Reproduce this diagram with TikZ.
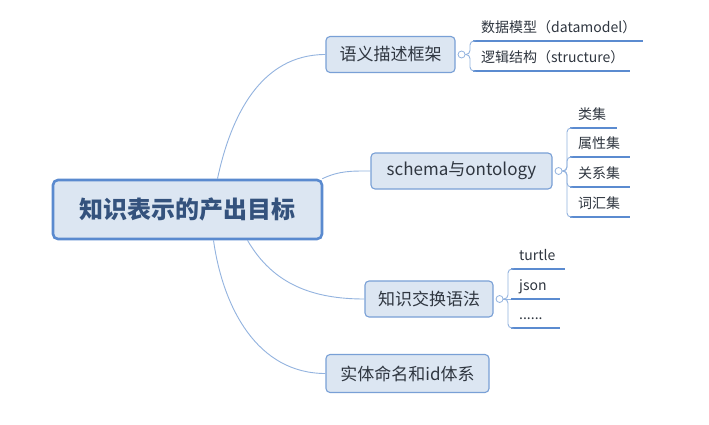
\documentclass[tikz,border=0pt]{standalone}
\usepackage{fontspec}
\setmainfont{Noto Sans CJK SC}

\definecolor{linkblue}{HTML}{93B3DF}
\definecolor{boxfill}{HTML}{DCE6F2}
\definecolor{boxline}{HTML}{79A0D6}
\definecolor{rootline}{HTML}{5A8ACF}
\definecolor{roottext}{HTML}{34527D}
\definecolor{bodytext}{HTML}{2F3640}
\definecolor{lineblue}{HTML}{5B8BD0}

\tikzset{
	rootbox/.style={draw=rootline, line width=2.6pt, fill=boxfill, rounded corners=5pt,
		minimum width=269pt, minimum height=59pt, text=roottext,
		font=\fontsize{24}{27}\selectfont\bfseries},
	topicbox/.style={draw=boxline, line width=1.1pt, fill=boxfill, rounded corners=4pt,
		minimum height=36pt, text=bodytext, font=\fontsize{17}{20}\selectfont},
	link/.style={draw=linkblue, line width=0.9pt},
	fold/.style={circle, draw=linkblue, fill=white, line width=0.8pt, inner sep=0pt, minimum size=7pt},
	leaf/.style={anchor=south west, inner xsep=8pt, inner ysep=3pt, text height=11pt, text depth=5pt,
		text=bodytext, font=\fontsize{14}{17}\selectfont},
	underline/.style={draw=lineblue, line width=1.8pt}
}

\begin{document}
\begin{tikzpicture}[x=1pt, y=1pt]
	\useasboundingbox [fill=white] ( 0, 0 ) rectangle ( 709, 424 );

	% 中心主题
	\node [rootbox] (root) at ( 187.5, 214.5 ) {知识表示的产出目标};

	% 分支主题
	\node [topicbox, minimum width=129pt] (frame) at ( 390.5, 369.5 ) {语义描述框架};
	\node [topicbox, minimum width=181pt] (schema) at ( 461.5, 253 ) {schema与ontology};
	\node [topicbox, minimum width=128pt] (syntax) at ( 429, 125 ) {知识交换语法};
	\node [topicbox, minimum width=163pt, minimum height=38pt] (naming) at ( 407.5, 50.5 ) {实体命名和id体系};

	\draw [link] ([xshift=30pt]root.north) to [ out = 78, in = 180 ] (frame.west);
	\draw [link] ([xshift=-1pt]root.north east) to [ out = 25, in = 180 ] (schema.west);
	\draw [link] ([xshift=60pt]root.south) to [ out = -60, in = 180 ] (syntax.west);
	\draw [link] ([xshift=26pt]root.south) to [ out = -82, in = 180 ] (naming.west);

	% 语义描述框架
	\node [fold] (f1) at ([xshift=6pt]frame.east) {};
	\node [leaf] (model) at ( 473, 383 ) {数据模型（datamodel）};
	\node [leaf] (struct) at ( 473, 353 ) {逻辑结构（structure）};
	\draw [underline] (model.south west) -- ++( 170, 0 );
	\draw [underline] (struct.south west) -- ++( 157, 0 );
	\draw [link, rounded corners=4pt] (f1.east) -- ++( 4.5, 0 ) |- (model.south west);
	\draw [link, rounded corners=4pt] (f1.east) -- ++( 4.5, 0 ) |- (struct.south west);

	% schema与ontology
	\node [fold] (f2) at ([xshift=6pt]schema.east) {};
	\node [leaf] (cls) at ( 570, 296 ) {类集};
	\node [leaf] (attr) at ( 570, 267 ) {属性集};
	\node [leaf] (rel) at ( 570, 237 ) {关系集};
	\node [leaf] (voc) at ( 570, 207 ) {词汇集};
	\draw [underline] (cls.south west) -- ++( 47, 0 );
	\draw [underline] (attr.south west) -- ++( 60, 0 );
	\draw [underline] (rel.south west) -- ++( 60, 0 );
	\draw [underline] (voc.south west) -- ++( 60, 0 );
	\foreach \leafname in {cls, attr, rel, voc}
		\draw [link, rounded corners=4pt] (f2.east) -- ++( 4.5, 0 ) |- (\leafname.south west);

	% 知识交换语法
	\node [fold] (f3) at ([xshift=6pt]syntax.east) {};
	\node [leaf] (turtle) at ( 511, 155 ) {turtle};
	\node [leaf] (json) at ( 511, 125 ) {json};
	\node [leaf] (more) at ( 511, 96 ) {......};
	\draw [underline] (turtle.south west) -- ++( 54, 0 );
	\draw [underline] (json.south west) -- ++( 49, 0 );
	\draw [underline] (more.south west) -- ++( 49, 0 );
	\draw [link, rounded corners=4pt] (f3.east) -- ++( 4.5, 0 ) |- (turtle.south west);
	\draw [link] (f3.east) -- (json.south west);
	\draw [link, rounded corners=4pt] (f3.east) -- ++( 4.5, 0 ) |- (more.south west);
\end{tikzpicture}
\end{document}
